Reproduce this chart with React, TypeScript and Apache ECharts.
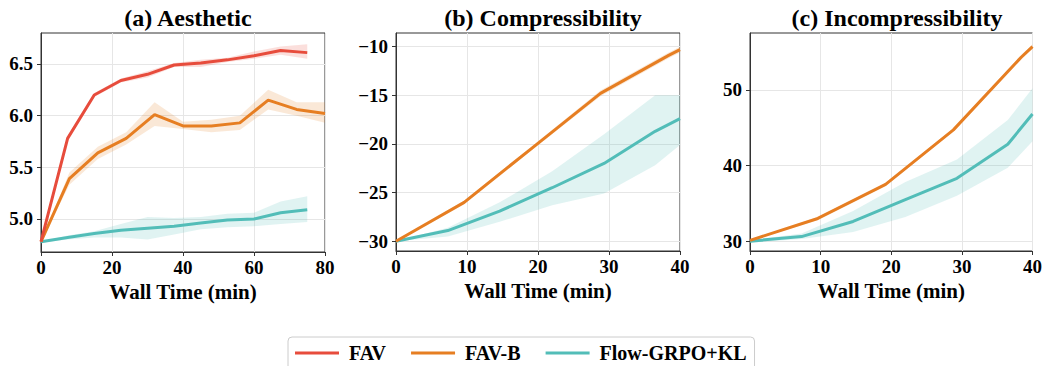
import React, { useEffect, useRef } from "react";
import * as echarts from "echarts";

// ---------- data ----------
const seriesNames = ["FAV", "FAV-B", "Flow-GRPO+KL"];
const titles = ["(a) Aesthetic", "(b) Compressibility", "(c) Incompressibility"];
const xAxisName = "Wall Time (min)";

// Panel (a) Aesthetic
const favTimeA = [0, 7.5, 15, 22.5, 30, 37.5, 45, 52.5, 60, 67.5, 75];
const favA = [4.78, 5.78, 6.2, 6.34, 6.4, 6.49, 6.51, 6.54, 6.58, 6.63, 6.61];
const favALo = [4.78, 5.76, 6.18, 6.32, 6.37, 6.47, 6.47, 6.52, 6.55, 6.59, 6.55];
const favAHi = [4.78, 5.8, 6.22, 6.36, 6.43, 6.51, 6.54, 6.56, 6.62, 6.67, 6.69];

const favBTimeA = [0, 8, 16, 24, 32, 40, 48, 56, 64, 72, 80];
const favBA = [4.78, 5.39, 5.64, 5.78, 6.01, 5.9, 5.9, 5.93, 6.15, 6.06, 6.02];
const favBALo = [4.78, 5.33, 5.58, 5.72, 5.9, 5.87, 5.84, 5.86, 6.06, 6.0, 5.93];
const favBAHi = [4.78, 5.45, 5.7, 5.84, 6.13, 5.94, 5.96, 6.0, 6.25, 6.13, 6.13];

const grpoTimeA = [0, 7.5, 15, 22.5, 30, 37.5, 45, 52.5, 60, 67.5, 75];
const grpoA = [4.78, 4.82, 4.86, 4.89, 4.91, 4.93, 4.96, 4.99, 5.0, 5.06, 5.09];
const grpoALo = [4.77, 4.8, 4.82, 4.82, 4.8, 4.85, 4.9, 4.92, 4.93, 4.95, 4.97];
const grpoAHi = [4.78, 4.84, 4.88, 4.95, 5.02, 5.01, 5.02, 5.05, 5.06, 5.17, 5.22];

// Panel (b) Compressibility
const favBTimeB = [0, 9.6, 19.2, 28.8, 38.4, 40];
const favBB = [-30, -26.0, -20.4, -14.8, -10.9, -10.3];
const favBBLo = [-30, -26.2, -20.6, -15.1, -11.2, -10.6];
const favBBHi = [-30, -25.8, -20.2, -14.5, -10.6, -10.0];

const grpoTimeB = [0, 7.3, 14.6, 22, 29.3, 36.5, 40];
const grpoB = [-30, -28.9, -26.9, -24.5, -22.0, -18.7, -17.4];
const grpoBLo = [-30, -29.5, -28.0, -26.3, -25.1, -22.2, -20.1];
const grpoBHi = [-30, -28.6, -26.0, -22.8, -19.0, -15.0, -15.0];

// Panel (c) Incompressibility
const favBTimeC = [0, 9.6, 19.2, 28.8, 38.4, 40];
const favBC = [30.1, 33.0, 37.5, 44.7, 54.3, 55.7];
const favBCLo = [30.0, 32.8, 37.3, 44.5, 54.0, 55.4];
const favBCHi = [30.2, 33.2, 37.7, 44.9, 54.6, 56.0];

const grpoTimeC = [0, 7.3, 14.6, 22, 29.3, 36.5, 40];
const grpoC = [30.0, 30.6, 32.6, 35.5, 38.3, 42.8, 46.8];
const grpoCLo = [29.8, 30.3, 31.2, 33.2, 36.0, 39.7, 43.2];
const grpoCHi = [30.1, 31.0, 34.0, 37.8, 40.8, 46.0, 50.2];

// axes
const yTicksA = [5.0, 5.5, 6.0, 6.5];
const yTicksB = [-30, -25, -20, -15, -10];
const yTicksC = [30, 40, 50];

// ---------- styles ----------
const FONT = '"Liberation Serif", "Times New Roman", serif';
const COLORS = ["#E74C3C", "#E67E22", "#52BDB8"];
const BAND_ALPHA = ["rgba(231,76,60,0.18)", "rgba(230,126,34,0.18)", "rgba(82,189,184,0.18)"];
const GRIDS = [
  { left: 41, top: 33, width: 284, height: 219 },
  { left: 396, top: 33, width: 284, height: 218 },
  { left: 750, top: 33, width: 284, height: 218 },
];

function pairs(xs: number[], ys: number[]) {
  return xs.map((x, i) => [x, ys[i]]);
}

function lineSeries(name: string, xs: number[], ys: number[], ci: number, gi: number) {
  return {
    type: "line",
    name,
    xAxisIndex: gi,
    yAxisIndex: gi,
    data: pairs(xs, ys),
    symbol: "none",
    showSymbol: false,
    color: COLORS[ci],
    lineStyle: { width: 3, color: COLORS[ci] },
    z: 5,
  };
}

function bandSeries(name: string, xs: number[], lo: number[], hi: number[], ci: number, gi: number) {
  return {
    type: "custom",
    name,
    xAxisIndex: gi,
    yAxisIndex: gi,
    data: xs.map((x, i) => [x, lo[i], hi[i]]),
    encode: { x: 0, y: [1, 2] },
    silent: true,
    z: 2,
    renderItem: (params: any, api: any) => {
      if (params.dataIndex !== 0) return null;
      const pts: number[][] = [];
      for (let i = 0; i < xs.length; i++) pts.push(api.coord([xs[i], hi[i]]));
      for (let i = xs.length - 1; i >= 0; i--) pts.push(api.coord([xs[i], lo[i]]));
      return {
        type: "polygon",
        shape: { points: pts },
        style: { fill: BAND_ALPHA[ci], stroke: null },
      };
    },
  };
}

const labelStyle = {
  fontFamily: FONT,
  fontWeight: "bold",
  fontSize: 19,
  color: "#000",
};

function xAxis(gi: number, max: number, interval: number) {
  return {
    type: "value",
    gridIndex: gi,
    min: 0,
    max,
    interval,
    name: xAxisName,
    nameLocation: "middle",
    nameGap: 29,
    nameTextStyle: { fontFamily: FONT, fontWeight: "bold", fontSize: 21, color: "#000" },
    axisLine: { show: true, lineStyle: { color: "#333", width: 1 } },
    axisTick: { show: true, inside: false, length: 4, lineStyle: { color: "#333" } },
    axisLabel: { ...labelStyle, margin: 6 },
    splitLine: { show: true, lineStyle: { color: "#e6e6e6", width: 1 } },
  };
}

function yAxis(gi: number, min: number, max: number, ticks: number[], fmt: (v: number) => string) {
  return {
    type: "value",
    gridIndex: gi,
    min,
    max,
    axisLine: { show: true, lineStyle: { color: "#333", width: 1 } },
    axisTick: { show: true, inside: false, length: 4, customValues: ticks, lineStyle: { color: "#333" } },
    axisLabel: { ...labelStyle, margin: 8, customValues: ticks, formatter: fmt },
    splitLine: { show: true, lineStyle: { color: "#e6e6e6", width: 1 } },
  };
}

export default function App() {
  const ref = useRef<HTMLDivElement>(null);

  useEffect(() => {
    if (!ref.current) return;
    const chart = echarts.init(ref.current, undefined, { renderer: "svg" });
    const centers = GRIDS.map((g) => g.left + g.width / 2);
    const option: any = {
      animation: false,
      backgroundColor: "#fff",
      title: titles.map((t, i) => ({
        text: t,
        left: centers[i],
        top: 1,
        textAlign: "center",
        textStyle: { fontFamily: FONT, fontWeight: "bold", fontSize: 24, color: "#000" },
      })),
      grid: GRIDS.map((g) => ({ ...g, show: true, borderColor: "#333", borderWidth: 1, backgroundColor: "transparent" })),
      xAxis: [xAxis(0, 80, 20), xAxis(1, 40, 10), xAxis(2, 40, 10)],
      yAxis: [
        yAxis(0, 4.68, 6.8, yTicksA, (v) => v.toFixed(1)),
        yAxis(1, -31, -8.6, yTicksB, (v) => String(v).replace("-", "\u2212")),
        yAxis(2, 28.7, 57.5, yTicksC, (v) => String(v)),
      ],
      legend: {
        data: seriesNames.map((n) => ({ name: n, icon: "rect" })),
        left: 288,
        top: 337,
        orient: "horizontal",
        itemWidth: 44,
        itemHeight: 3,
        itemGap: 25,
        padding: [6, 8, 8, 7],
        borderColor: "#cccccc",
        borderWidth: 1,
        borderRadius: 4,
        textStyle: { fontFamily: FONT, fontWeight: "bold", fontSize: 20, color: "#000", padding: [0, 0, 0, 5] },
      },
      series: [
        bandSeries("FAV band a", favTimeA, favALo, favAHi, 0, 0),
        bandSeries("FAV-B band a", favBTimeA, favBALo, favBAHi, 1, 0),
        bandSeries("GRPO band a", grpoTimeA, grpoALo, grpoAHi, 2, 0),
        lineSeries(seriesNames[2], grpoTimeA, grpoA, 2, 0),
        lineSeries(seriesNames[1], favBTimeA, favBA, 1, 0),
        lineSeries(seriesNames[0], favTimeA, favA, 0, 0),

        bandSeries("FAV-B band b", favBTimeB, favBBLo, favBBHi, 1, 1),
        bandSeries("GRPO band b", grpoTimeB, grpoBLo, grpoBHi, 2, 1),
        lineSeries(seriesNames[2], grpoTimeB, grpoB, 2, 1),
        lineSeries(seriesNames[1], favBTimeB, favBB, 1, 1),

        bandSeries("FAV-B band c", favBTimeC, favBCLo, favBCHi, 1, 2),
        bandSeries("GRPO band c", grpoTimeC, grpoCLo, grpoCHi, 2, 2),
        lineSeries(seriesNames[2], grpoTimeC, grpoC, 2, 2),
        lineSeries(seriesNames[1], favBTimeC, favBC, 1, 2),
      ],
    };
    chart.setOption(option);
    return () => chart.dispose();
  }, []);

  return (
    <div
      ref={ref}
      style={{ position: "absolute", left: 0, top: 0, width: 1045, height: 366, background: "#fff" }}
    />
  );
}
